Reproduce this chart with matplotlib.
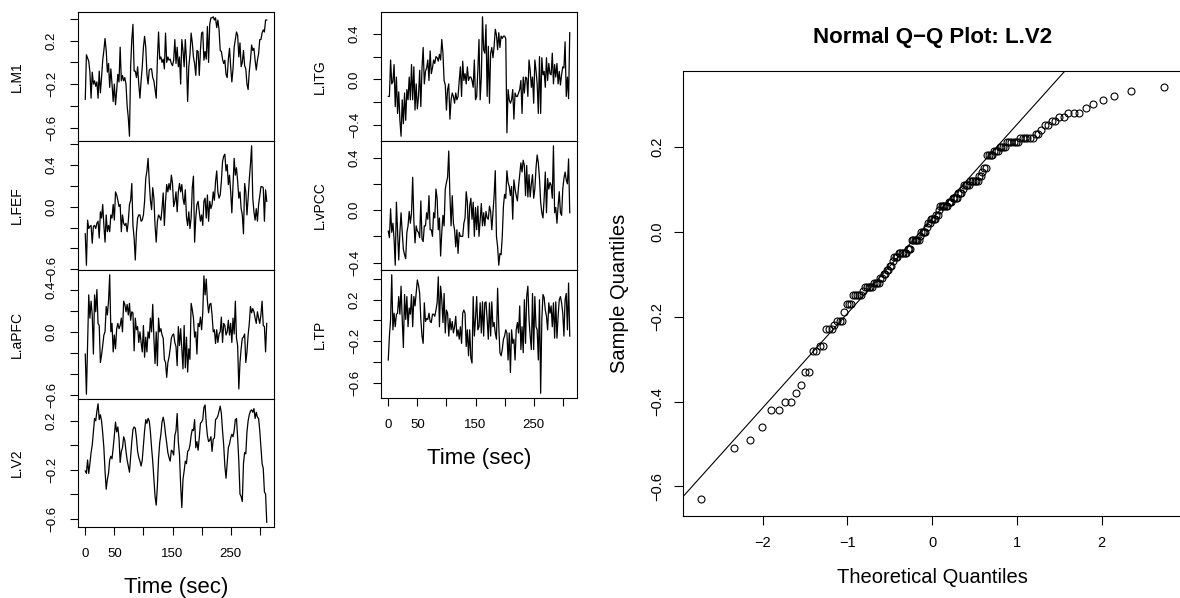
import numpy as np
import matplotlib
matplotlib.use("Agg")
import matplotlib.pyplot as plt
from statistics import NormalDist

plt.rcParams["font.family"] = ["Liberation Sans", "DejaVu Sans"]
plt.rcParams["axes.linewidth"] = 0.8

# time axis, one sample every 2 s
time = np.arange(0, 313, 2)

l_m1 = [-0.34, 0.07, 0.04, 0.01, -0.09, -0.33, -0.09, -0.20, -0.17, -0.22,
        -0.18, -0.33, -0.08, -0.28, -0.14, 0.02, 0.11, 0.22, 0.11, -0.09,
        -0.01, -0.23, -0.06, -0.20, -0.36, -0.20, -0.39, -0.26, -0.11, -0.18,
        0.14, -0.17, -0.12, -0.17, -0.14, -0.20, -0.40, -0.51, -0.68, -0.04,
        0.21, 0.35, -0.08, -0.08, -0.14, -0.04, -0.20, -0.33, -0.17, -0.04,
        0.14, 0.24, 0.14, -0.11, -0.20, -0.07, -0.06, -0.06, -0.14, -0.17,
        -0.25, -0.33, 0.03, 0.28, 0.03, 0.05, 0.00, 0.03, -0.06, 0.27,
        0.00, 0.05, 0.02, 0.03, -0.01, -0.03, 0.02, 0.21, -0.01, 0.14,
        -0.04, 0.05, -0.20, 0.21, 0.11, -0.04, 0.21, 0.02, -0.36, -0.04,
        0.07, 0.27, 0.18, 0.05, -0.01, -0.12, 0.11, 0.10, -0.12, 0.11,
        0.27, 0.28, 0.02, 0.10, 0.03, 0.33, 0.00, 0.35, 0.41, 0.41,
        0.42, 0.39, 0.41, 0.32, 0.39, 0.30, 0.11, 0.10, 0.03, -0.01,
        0.02, -0.11, -0.14, 0.03, 0.13, -0.04, -0.18, -0.06, 0.14, 0.21,
        0.28, 0.25, 0.05, 0.18, -0.04, 0.00, 0.11, -0.03, -0.06, -0.20,
        -0.25, -0.08, 0.02, 0.16, 0.11, 0.13, 0.02, -0.07, 0.02, 0.08,
        0.21, 0.21, 0.27, 0.30, 0.28, 0.39, 0.39]

l_fef = [-0.26, -0.56, -0.13, -0.21, -0.19, -0.18, -0.35, -0.19, -0.18, -0.21,
         -0.16, -0.14, -0.30, -0.05, -0.11, 0.02, -0.18, -0.34, -0.08, -0.24,
         -0.18, -0.24, -0.08, -0.11, 0.02, -0.13, 0.14, 0.11, 0.06, 0.00,
         0.02, -0.24, -0.08, -0.16, -0.18, -0.16, -0.24, -0.14, 0.02, 0.06,
         0.22, -0.18, -0.30, -0.51, -0.24, -0.11, -0.08, -0.08, -0.14, -0.13,
         -0.08, 0.05, 0.27, 0.34, 0.46, 0.24, 0.06, -0.03, 0.18, 0.08,
         -0.18, -0.34, -0.14, -0.08, -0.10, -0.13, -0.02, 0.13, -0.18, 0.05,
         0.21, 0.14, 0.22, 0.16, 0.30, 0.22, 0.00, 0.05, 0.14, -0.05,
         0.14, 0.22, 0.14, 0.21, 0.08, 0.02, 0.16, -0.10, -0.18, -0.05,
         -0.21, -0.11, 0.18, 0.29, -0.34, -0.11, 0.02, 0.05, -0.05, -0.14,
         -0.08, -0.18, 0.05, 0.08, -0.11, 0.11, -0.14, 0.05, -0.02, 0.02,
         0.14, 0.06, 0.24, 0.34, 0.14, 0.08, 0.11, 0.24, 0.43, 0.48,
         0.50, 0.34, 0.40, 0.21, 0.30, 0.14, -0.06, 0.21, 0.46, 0.30,
         0.37, 0.24, 0.08, 0.14, -0.02, -0.08, -0.26, 0.22, 0.14, -0.08,
         0.08, 0.26, 0.40, 0.58, 0.08, -0.05, -0.13, -0.02, -0.14, 0.02,
         0.10, 0.19, 0.19, 0.18, -0.14, 0.16, 0.05]

l_apfc = [-0.21, -0.59, -0.13, 0.35, 0.13, 0.29, 0.16, -0.21, 0.35, 0.19,
          0.40, 0.08, 0.06, -0.29, -0.22, -0.13, -0.03, 0.00, 0.24, 0.16,
          0.29, 0.54, 0.00, 0.08, -0.19, -0.03, -0.16, 0.03, 0.08, 0.03,
          0.06, 0.13, 0.00, 0.29, 0.26, 0.19, 0.26, 0.16, 0.27, 0.11,
          0.19, 0.18, -0.18, 0.13, 0.02, 0.05, -0.10, 0.00, -0.10, -0.19,
          0.06, -0.24, -0.05, -0.19, 0.00, -0.06, 0.13, 0.00, 0.26, -0.06,
          -0.30, 0.00, -0.32, 0.13, 0.00, 0.03, -0.03, -0.06, -0.26, -0.29,
          -0.43, -0.29, -0.24, -0.16, -0.06, -0.03, -0.02, -0.10, -0.14, -0.32,
          0.05, -0.13, 0.03, -0.16, -0.35, 0.06, -0.34, -0.05, -0.38, -0.16,
          -0.26, 0.27, 0.21, 0.13, -0.05, 0.00, -0.21, 0.08, 0.05, 0.14,
          0.02, 0.18, 0.53, 0.35, 0.50, 0.29, 0.18, 0.26, 0.27, 0.16,
          0.00, 0.02, -0.11, 0.02, -0.10, -0.02, 0.00, 0.14, -0.10, 0.08,
          0.06, -0.03, 0.00, 0.11, -0.03, 0.08, -0.10, 0.13, -0.02, 0.29,
          -0.06, -0.13, -0.54, -0.29, -0.16, -0.06, -0.05, -0.02, -0.29, -0.19,
          -0.03, 0.08, 0.24, 0.18, 0.22, 0.19, 0.13, 0.08, 0.19, 0.13,
          0.08, 0.16, 0.29, 0.06, 0.05, -0.19, 0.08]

l_v2 = [-0.21, -0.23, -0.12, -0.23, -0.15, -0.06, 0.00, 0.11, 0.22, 0.20,
        0.28, 0.34, 0.21, 0.25, 0.20, 0.10, -0.02, -0.21, -0.36, -0.28,
        -0.23, -0.12, -0.09, -0.11, -0.02, 0.08, 0.19, 0.11, 0.15, 0.06,
        -0.14, -0.05, -0.02, 0.07, 0.04, -0.05, -0.12, -0.17, -0.22, -0.09,
        0.03, 0.13, 0.15, 0.14, 0.06, -0.05, -0.10, -0.13, -0.17, -0.12,
        0.00, 0.12, 0.21, 0.18, 0.22, 0.20, 0.11, -0.02, -0.13, -0.27,
        -0.42, -0.49, -0.33, -0.11, 0.02, 0.09, 0.19, 0.23, 0.18, 0.09,
        0.02, -0.06, -0.10, -0.13, -0.04, -0.05, -0.08, 0.08, 0.12, 0.26,
        0.03, -0.08, -0.33, -0.51, -0.28, -0.21, -0.13, -0.15, -0.05, -0.04,
        0.00, 0.08, 0.13, 0.12, 0.21, -0.02, 0.03, -0.04, 0.06, 0.18,
        0.19, 0.21, 0.31, 0.33, 0.18, 0.08, 0.03, 0.04, 0.07, -0.05,
        0.05, 0.06, 0.21, 0.22, 0.24, 0.28, 0.32, 0.26, 0.12, 0.00,
        -0.17, -0.27, -0.15, -0.02, 0.01, 0.06, 0.09, 0.07, 0.12, 0.21,
        0.22, 0.06, -0.13, -0.40, -0.42, -0.46, -0.15, -0.06, -0.07, 0.11,
        0.20, 0.25, 0.28, 0.29, 0.27, 0.30, 0.22, 0.27, 0.23, 0.22,
        0.12, -0.01, -0.15, -0.19, -0.38, -0.40, -0.63]

l_itg = [-0.15, -0.15, 0.17, -0.04, -0.02, 0.13, -0.24, 0.02, -0.30, -0.11,
         -0.36, -0.50, -0.18, -0.39, -0.12, -0.36, -0.09, -0.18, 0.02, -0.18,
         0.13, -0.18, 0.11, -0.27, -0.04, -0.26, -0.15, 0.08, -0.24, 0.10,
         0.28, -0.04, 0.07, 0.10, 0.17, -0.01, 0.25, 0.05, 0.10, 0.17,
         0.14, 0.20, 0.19, 0.16, 0.22, 0.17, 0.35, 0.23, -0.01, -0.05,
         -0.27, -0.09, -0.04, -0.35, -0.18, -0.12, -0.15, -0.21, -0.12, -0.18,
         -0.15, -0.01, 0.11, -0.15, 0.16, -0.01, 0.05, -0.04, 0.11, -0.01,
         0.02, 0.02, -0.01, -0.07, 0.17, -0.18, -0.15, 0.08, 0.35, -0.18,
         0.02, 0.55, 0.26, 0.23, 0.48, -0.15, 0.29, -0.21, 0.23, 0.28,
         0.19, 0.29, 0.44, 0.39, 0.26, 0.41, 0.28, 0.38, 0.36, 0.38,
         0.38, 0.36, -0.47, -0.09, -0.18, -0.21, -0.18, -0.09, -0.35, -0.12,
         -0.15, -0.15, -0.12, -0.09, -0.01, -0.30, 0.02, -0.12, 0.02, 0.01,
         -0.15, 0.17, 0.08, -0.07, 0.02, -0.21, 0.17, 0.08, -0.04, -0.30,
         0.20, -0.30, 0.19, 0.04, 0.07, -0.07, 0.19, -0.01, 0.14, 0.05,
         0.04, 0.23, -0.04, 0.13, 0.02, 0.14, -0.04, 0.07, -0.05, 0.04,
         0.11, 0.10, 0.33, -0.15, 0.02, -0.17, 0.41]

l_vpcc = [-0.16, -0.21, 0.01, -0.17, -0.10, -0.22, -0.42, 0.06, -0.17, -0.38,
          -0.17, -0.02, -0.17, -0.30, -0.34, -0.37, -0.17, -0.12, -0.01, -0.10,
          -0.02, 0.25, -0.08, -0.25, -0.12, -0.16, -0.17, -0.21, 0.07, -0.22,
          -0.24, -0.12, -0.12, -0.02, -0.07, 0.11, -0.15, -0.15, -0.20, -0.02,
          -0.06, 0.16, 0.09, -0.15, -0.06, -0.35, -0.17, -0.04, -0.12, 0.16,
          0.21, 0.25, 0.45, 0.11, -0.12, 0.11, -0.10, -0.15, -0.28, -0.15,
          -0.33, -0.17, -0.20, -0.20, -0.20, -0.10, -0.06, 0.14, 0.06, -0.21,
          0.03, 0.09, -0.07, 0.06, -0.20, 0.02, -0.15, 0.03, -0.20, -0.08,
          0.05, -0.12, -0.02, -0.12, -0.01, -0.06, -0.07, 0.03, -0.01, -0.15,
          -0.02, 0.11, 0.30, -0.20, -0.28, -0.42, -0.33, -0.34, -0.20, 0.03,
          0.12, 0.09, 0.30, 0.21, 0.18, 0.11, 0.18, -0.07, 0.23, 0.16,
          0.11, 0.07, 0.18, 0.27, 0.36, 0.29, 0.38, 0.34, 0.11, 0.34,
          0.10, 0.27, 0.10, 0.20, 0.27, 0.09, 0.16, 0.32, 0.42, 0.36,
          0.24, 0.06, -0.02, -0.06, 0.09, 0.29, -0.02, 0.24, 0.16, 0.21,
          0.19, 0.09, 0.49, -0.02, 0.02, -0.10, 0.03, 0.14, -0.02, -0.04,
          0.16, 0.24, 0.29, 0.23, 0.20, 0.39, -0.02]

l_tp = [-0.38, -0.15, 0.01, 0.44, -0.09, 0.07, -0.06, 0.06, 0.07, 0.23,
        0.06, 0.33, 0.01, -0.26, 0.25, 0.01, 0.23, -0.06, 0.12, 0.06,
        0.25, -0.06, 0.23, 0.14, 0.26, 0.39, 0.34, 0.26, 0.01, -0.15,
        -0.22, 0.17, -0.01, 0.02, 0.01, 0.07, -0.01, -0.02, 0.06, 0.06,
        0.04, 0.10, 0.17, 0.42, -0.06, 0.33, 0.20, -0.02, 0.26, -0.12,
        0.10, 0.07, -0.15, 0.02, -0.09, -0.01, -0.12, -0.06, 0.04, -0.15,
        -0.09, -0.18, -0.06, -0.22, 0.07, 0.10, 0.07, -0.25, -0.09, -0.34,
        -0.09, -0.36, -0.41, 0.23, -0.15, 0.02, 0.23, -0.09, -0.06, 0.17,
        -0.12, 0.18, -0.15, 0.17, 0.18, 0.01, -0.18, 0.17, -0.15, 0.18,
        -0.06, -0.02, -0.12, -0.18, 0.31, -0.06, -0.31, -0.34, -0.28, -0.18,
        -0.15, -0.09, -0.12, -0.38, -0.12, -0.50, -0.09, -0.22, -0.18, -0.38,
        -0.09, -0.02, -0.12, 0.14, -0.28, -0.06, -0.31, 0.20, -0.22, 0.23,
        0.33, 0.01, -0.15, -0.28, 0.26, -0.28, 0.23, -0.06, -0.09, -0.38,
        0.20, -0.70, 0.01, 0.25, 0.22, 0.10, 0.04, -0.09, 0.17, 0.07,
        0.14, -0.06, 0.17, -0.17, 0.18, -0.17, 0.04, 0.20, 0.23, 0.17,
        0.07, -0.15, 0.20, 0.26, -0.09, 0.36, -0.15]

# which y tick labels R kept on each panel
shown_m1 = [0.2, -0.2, -0.6]
shown_fef = [0.4, 0.0, -0.6]
shown_apfc = [0.4, 0.0, -0.6]
shown_v2 = [0.2, -0.2, -0.6]
shown_itg = [0.4, 0.0, -0.4]
shown_vpcc = [0.4, 0.0, -0.4]
shown_tp = [0.2, -0.2, -0.6]

y_ticks = [-0.6, -0.4, -0.2, 0.0, 0.2, 0.4, 0.6]
x_ticks = [0, 50, 100, 150, 200, 250, 300]
x_labels = ["0", "50", "", "150", "", "250", ""]

for s in (l_m1, l_fef, l_apfc, l_v2, l_itg, l_vpcc, l_tp):
    assert len(s) == len(time), len(s)

fig = plt.figure(figsize=(11.8, 5.98), dpi=100)


def put_axes(x0, y0, x1, y1):
    # box given in reference pixels: left, top, right, bottom
    return fig.add_axes([x0 / 1180, 1 - y1 / 598, (x1 - x0) / 1180, (y1 - y0) / 598])


def fmt(v):
    s = "0.0" if abs(v) < 1e-9 else f"{v:.1f}"
    return s.replace("-", "\u2212")


def r_lim(vals):
    lo, hi = min(vals), max(vals)
    pad = 0.04 * (hi - lo)
    return lo - pad, hi + pad


def roi_panel(box, values, name, shown, with_time):
    ax = put_axes(*box)
    ax.plot(time, values, color="black", lw=0.9)
    ax.set_yticks(y_ticks)
    ax.set_yticklabels([fmt(v) if any(abs(v - s) < 1e-6 for s in shown) else ""
                        for v in y_ticks], rotation=90, va="center", ha="center")
    ax.tick_params(axis="y", direction="out", length=5.8, width=0.8, pad=13, labelsize=9.5)
    if with_time:
        ax.set_xticks(x_ticks)
        ax.set_xticklabels(x_labels, va="center")
        ax.tick_params(axis="x", direction="out", length=5.8, width=0.8, pad=13.7, labelsize=9.5)
        ax.set_xlabel("Time (sec)", fontsize=16)
        ax.xaxis.set_label_coords(0.5, -0.469)
        ax.xaxis.label.set_va("center")
    else:
        ax.tick_params(axis="x", bottom=False, labelbottom=False)
    ax.set_xlim(r_lim(time))
    ax.set_ylim(r_lim(values))
    ax.set_ylabel(name, fontsize=10)
    ax.yaxis.set_label_coords(-0.312, 0.5)
    ax.yaxis.label.set_va("center")
    return ax


rows = [(12, 141), (141, 270), (270, 399), (399, 527)]
roi_panel((78, rows[0][0], 274, rows[0][1]), l_m1, "L.M1", shown_m1, False)
roi_panel((78, rows[1][0], 274, rows[1][1]), l_fef, "L.FEF", shown_fef, False)
roi_panel((78, rows[2][0], 274, rows[2][1]), l_apfc, "L.aPFC", shown_apfc, False)
roi_panel((78, rows[3][0], 274, rows[3][1]), l_v2, "L.V2", shown_v2, True)

roi_panel((381, rows[0][0], 577, rows[0][1]), l_itg, "L.ITG", shown_itg, False)
roi_panel((381, rows[1][0], 577, rows[1][1]), l_vpcc, "L.vPCC", shown_vpcc, False)
roi_panel((381, rows[2][0], 577, 398), l_tp, "L.TP", shown_tp, True)

# normal Q-Q plot of L.V2 (R qqnorm / qqline)
n = len(l_v2)
nd = NormalDist()
theo = np.array([nd.inv_cdf((i - 0.5) / n) for i in range(1, n + 1)])
sample = np.sort(l_v2)
qy = np.quantile(l_v2, [0.25, 0.75])
qx = np.array([nd.inv_cdf(0.25), nd.inv_cdf(0.75)])
slope = (qy[1] - qy[0]) / (qx[1] - qx[0])

ax = put_axes(682.5, 70.7, 1182, 515.7)
ax.plot(theo, sample, "o", mfc="none", mec="black", ms=5, mew=0.8)
ax.axline((qx[0], qy[0]), slope=slope, color="black", lw=0.8)
qq_x_ticks = [-2, -1, 0, 1, 2]
qq_y_ticks = [-0.6, -0.4, -0.2, 0.0, 0.2]
ax.set_xticks(qq_x_ticks)
ax.set_xticklabels([str(v).replace("-", "\u2212") for v in qq_x_ticks], va="center")
ax.set_yticks(qq_y_ticks)
ax.set_yticklabels([fmt(v) for v in qq_y_ticks], rotation=90, va="center", ha="center")
ax.tick_params(axis="x", direction="out", length=6.5, width=0.8, pad=13.4, labelsize=10.5)
ax.tick_params(axis="y", direction="out", length=6.5, width=0.8, pad=11.7, labelsize=10.5)
ax.set_xlim(r_lim(theo))
ax.set_ylim(r_lim(sample))
ax.set_xlabel("Theoretical Quantiles", fontsize=14.5)
ax.xaxis.set_label_coords(0.5, -0.138)
ax.xaxis.label.set_va("center")
ax.set_ylabel("Sample Quantiles", fontsize=14.5)
ax.yaxis.set_label_coords(-0.127, 0.5)
ax.yaxis.label.set_va("center")
ax.text(0.5, 1.0757, "Normal Q\u2212Q Plot: L.V2", transform=ax.transAxes,
        ha="center", va="center", fontsize=16, fontweight="bold")

fig.savefig("out.png", dpi=100)
